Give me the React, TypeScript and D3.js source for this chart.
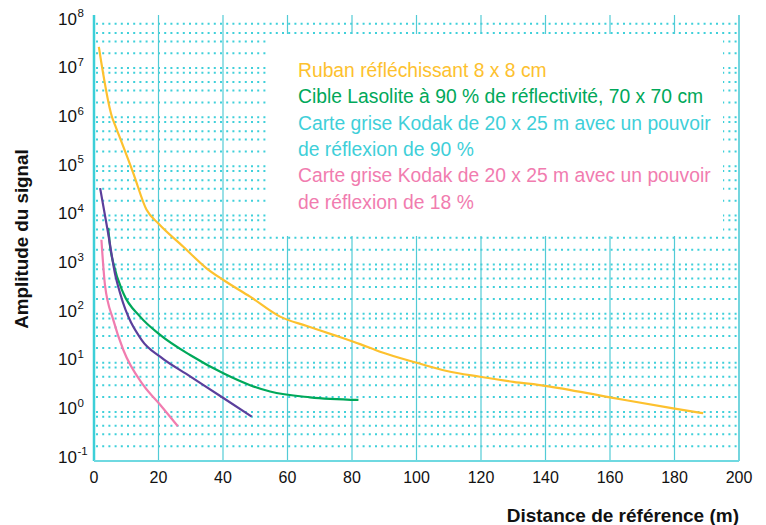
import React from "react";
import * as d3 from "d3";

// ---- data ----
const xTicks = [0, 20, 40, 60, 80, 100, 120, 140, 160, 180, 200];
const yExponents = [-1, 0, 1, 2, 3, 4, 5, 6, 7, 8];
const minorMultipliers = [2, 3.5, 5.2, 8];

const rubanSeries: [number, number][] = [
  [1.5, 2.7e7], [5.6, 1.0e6], [6.5, 7.0e5], [12.2, 7.2e4], [16.3, 1.3e4],
  [19.9, 6.9e3], [27.7, 2.3e3], [34.9, 840], [40.1, 485], [48.4, 222],
  [57.7, 87], [66, 56], [74.2, 37], [82.5, 24], [88.7, 16.8], [100.1, 10],
  [109.4, 6.8], [119.7, 5.2], [130, 4.1], [139.8, 3.4], [160, 1.98],
  [179.6, 1.18], [188.9, 0.94],
];
const lasoliteSeries: [number, number][] = [
  [4.4, 5.6e3], [5.0, 2.3e3], [6.0, 1.06e3], [9.1, 260], [14.3, 87],
  [20.5, 37], [29.8, 14.4], [40.1, 6.1], [48.4, 3.5], [54.6, 2.6],
  [67, 1.98], [82, 1.75],
];
const kodak90Series: [number, number][] = [
  [1.9, 3.6e4], [4.4, 4.3e3], [6.5, 660], [8.1, 260], [14.8, 29],
  [20.5, 13.3], [29.8, 5.3], [40.1, 1.92], [48.9, 0.8],
];
const kodak18Series: [number, number][] = [
  [2.3, 3.2e3], [3.4, 384], [6.0, 74], [9.1, 18.2], [15.3, 3.5],
  [20.5, 1.4], [26.0, 0.51],
];

const legendLines = [
  { text: "Ruban réfléchissant 8 x 8 cm", color: "#FDC12E" },
  { text: "Cible Lasolite à 90 % de réflectivité, 70 x 70 cm", color: "#00A85A" },
  { text: "Carte grise Kodak de 20 x 25 m avec un pouvoir", color: "#3FCFD9" },
  { text: "de réflexion de 90 %", color: "#3FCFD9" },
  { text: "Carte grise Kodak de 20 x 25 m avec un pouvoir", color: "#F17CAF" },
  { text: "de réflexion de 18 %", color: "#F17CAF" },
];

const xTitle = "Distance de référence (m)";
const yTitle = "Amplitude du signal";

// ---- layout ----
const W = 766;
const H = 525;
const left = 94;
const right = 739;
const top = 15;
const bottom = 461;
const FONT = "'Liberation Sans', Arial, Helvetica, sans-serif";
const GRID = "#3FD0DA";

export default function App() {
  const x = d3.scaleLinear().domain([0, 200]).range([left, right]);
  const y = d3.scaleLog().domain([0.1, 1e8]).range([bottom, 19]);
  // tick labels are spaced slightly differently from the grid in the original
  const yLabel = d3.scaleLog().domain([0.1, 1e8]).range([456.7, 18.7]);

  const line = d3
    .line<[number, number]>()
    .x((d) => x(d[0]))
    .y((d) => y(d[1]))
    .curve(d3.curveMonotoneX);

  // horizontal dotted rows
  const rows: number[] = [];
  for (let e = -1; e <= 7; e++) {
    const base = Math.pow(10, e);
    if (e >= 0) rows.push(base);
    minorMultipliers.forEach((m) => rows.push(base * m));
  }

  const series = [
    { data: rubanSeries, color: "#FDC12E" },
    { data: lasoliteSeries, color: "#00A85A" },
    { data: kodak90Series, color: "#5B3F9C" },
    { data: kodak18Series, color: "#F17CAF" },
  ];

  return (
    <svg
      width={W}
      height={H}
      style={{ position: "absolute", left: 0, top: 0, background: "#fff" }}
      fontFamily={FONT}
    >
      <rect x={0} y={0} width={W} height={H} fill="#fff" />
      {/* dotted horizontal grid */}
      {rows.map((v, i) => (
        <line
          key={"r" + i}
          x1={left + 2}
          x2={right}
          y1={y(v)}
          y2={y(v)}
          stroke={GRID}
          strokeWidth={2}
          strokeDasharray="2 4.2"
        />
      ))}
      {/* vertical lines */}
      {xTicks.map((t) => (
        <line
          key={"v" + t}
          x1={x(t)}
          x2={x(t)}
          y1={top}
          y2={bottom}
          stroke={t === 0 ? "#3CCFD8" : "#52CBD6"}
          strokeWidth={t === 0 ? 2.5 : t === 200 ? 1.6 : 1.2}
        />
      ))}
      {/* bottom axis */}
      <line x1={left} x2={right} y1={bottom} y2={bottom} stroke="#6FD9E1" strokeWidth={2.2} />

      {/* legend box */}
      <rect x={268} y={34} width={455} height={202} fill="#fff" />
      {legendLines.map((l, i) => (
        <text key={"l" + i} x={298} y={77 + i * 26.3} fontSize={19.3} fill={l.color}>
          {l.text}
        </text>
      ))}

      {/* curves */}
      {series.map((s, i) => (
        <path key={"s" + i} d={line(s.data) || ""} fill="none" stroke={s.color} strokeWidth={2.2} />
      ))}

      {/* y tick labels */}
      {yExponents.map((e) => {
        const yy = yLabel(Math.pow(10, e));
        return (
          <g key={"y" + e}>
            <text x={77} y={yy} dy="0.35em" fontSize={17} textAnchor="end" fill="#111">
              10
            </text>
            <text x={77.5} y={yy - 5.5} dy="0.35em" fontSize={11.5} textAnchor="start" fill="#111">
              {e}
            </text>
          </g>
        );
      })}

      {/* x tick labels */}
      {xTicks.map((t) => (
        <text key={"x" + t} x={x(t)} y={483} fontSize={16} textAnchor="middle" fill="#111">
          {t}
        </text>
      ))}

      {/* axis titles */}
      <text x={739} y={522} fontSize={19} fontWeight="bold" textAnchor="end" fill="#111">
        {xTitle}
      </text>
      <text
        transform="translate(28,239) rotate(-90)"
        fontSize={18.8}
        fontWeight="bold"
        textAnchor="middle"
        fill="#111"
      >
        {yTitle}
      </text>
    </svg>
  );
}
